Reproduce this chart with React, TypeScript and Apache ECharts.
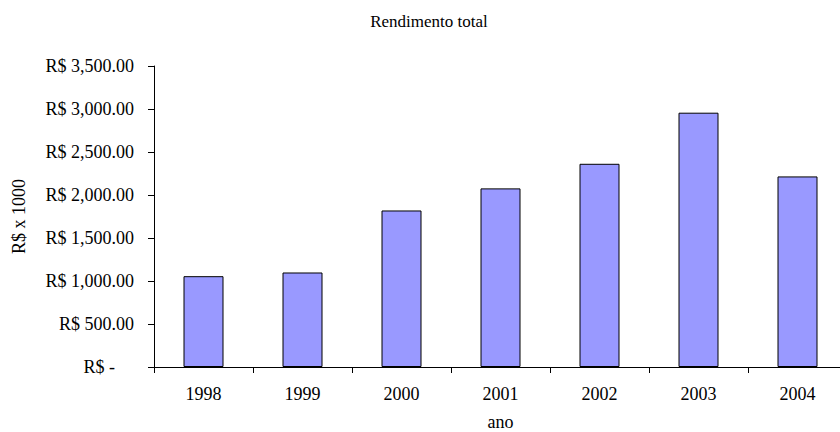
import React, { useEffect, useRef } from "react";
import * as echarts from "echarts";

const categories = ["1998", "1999", "2000", "2001", "2002", "2003", "2004"];
const values = [1056, 1099, 1820, 2077, 2363, 2957, 2216];
const chartTitle = "Rendimento total";
const yAxisName = "R$ x 1000";
const xAxisName = "ano";

const FONT = "'Liberation Serif', 'Times New Roman', serif";

function fmt(v: number): string {
  if (v === 0) return "{z|R$ -}";
  const s = v.toFixed(2);
  const [i, d] = s.split(".");
  return "R$ " + i.replace(/\B(?=(\d{3})+(?!\d))/g, ",") + "." + d;
}

export default function App() {
  const ref = useRef<HTMLDivElement>(null);
  useEffect(() => {
    document.body.style.margin = "0";
    const chart = echarts.init(ref.current!, null, { renderer: "svg" });
    chart.setOption({
      animation: false,
      backgroundColor: "#ffffff",
      textStyle: { fontFamily: FONT, color: "#000" },
      graphic: [
        {
          type: "text",
          x: 429,
          y: 21,
          style: {
            text: chartTitle,
            fill: "#000",
            font: `17px ${FONT}`,
            textAlign: "center",
            textVerticalAlign: "middle",
          },
        },
      ],
      grid: {
        left: 154,
        right: -7,
        top: 66,
        bottom: 65,
        containLabel: false,
        outerBoundsMode: "none",
      },
      xAxis: {
        type: "category",
        data: categories,
        boundaryGap: true,
        name: xAxisName,
        nameLocation: "middle",
        nameGap: 46,
        nameTextStyle: { fontFamily: FONT, fontSize: 18, color: "#000" },
        axisLine: { lineStyle: { color: "#000", width: 1 } },
        axisTick: { show: true, alignWithLabel: false, length: 6, lineStyle: { color: "#000" } },
        axisLabel: { fontFamily: FONT, fontSize: 18, color: "#000", margin: 18 },
      },
      yAxis: {
        type: "value",
        min: 0,
        max: 3500,
        interval: 500,
        name: yAxisName,
        nameLocation: "middle",
        nameGap: 126,
        nameRotate: 90,
        nameTextStyle: { fontFamily: FONT, fontSize: 18, color: "#000" },
        axisLine: { show: true, lineStyle: { color: "#000", width: 1 } },
        axisTick: { show: true, length: 6, lineStyle: { color: "#000" } },
        splitLine: { show: false },
        axisLabel: {
          fontFamily: FONT,
          fontSize: 18,
          color: "#000",
          margin: 20,
          formatter: (v: number) => fmt(v),
          rich: {
            z: { fontFamily: FONT, fontSize: 18, color: "#000", padding: [0, 19, 0, 0] },
          },
        },
      },
      series: [
        {
          type: "bar",
          data: values,
          barWidth: 40,
          itemStyle: { color: "#9999ff", borderColor: "#000", borderWidth: 1 },
        },
      ],
    });
    return () => chart.dispose();
  }, []);
  return <div ref={ref} style={{ width: 840, height: 432 }} />;
}
